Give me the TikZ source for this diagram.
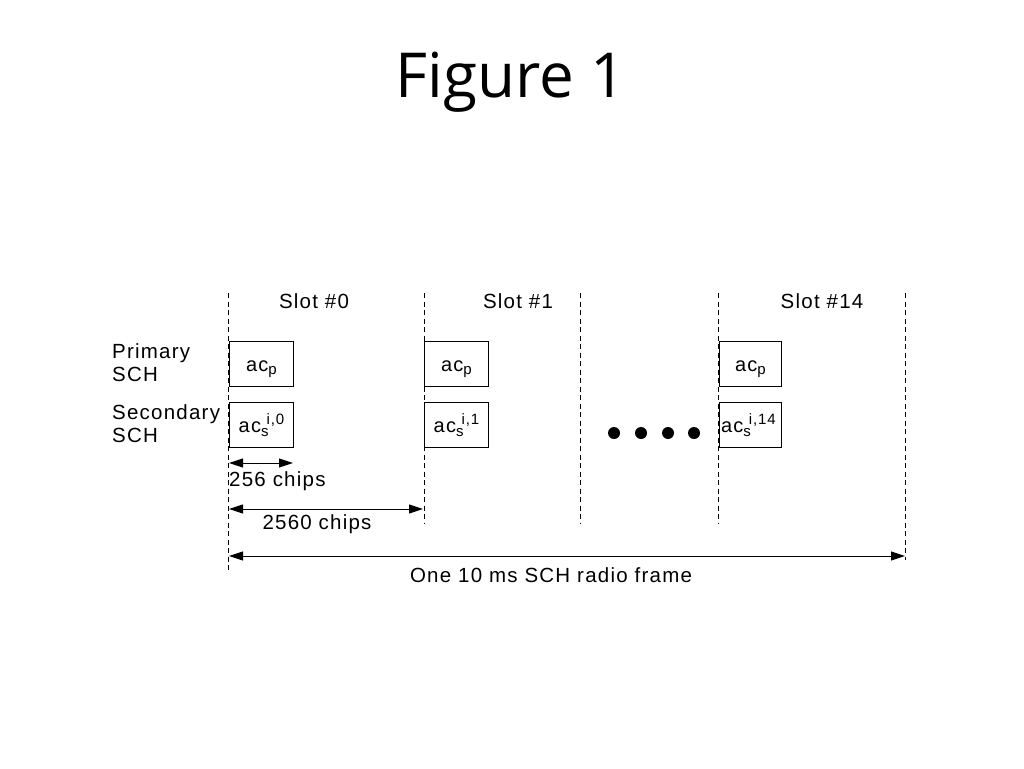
\documentclass[tikz,border=0pt]{standalone}
\usepackage{fontspec}
\setmainfont{Liberation Sans}[LetterSpace=6]
\newfontfamily\titlefont{Open Sans}
\usetikzlibrary{arrows.meta}
\newcommand{\mysb}[1]{\raisebox{-3.5pt}{\fontsize{15}{15}\selectfont #1}}
\newcommand{\mysp}[1]{\raisebox{8pt}{\fontsize{15}{15}\selectfont #1}}
\begin{document}
\begin{tikzpicture}[x=1pt,y=-1pt,
  lbl/.style={font=\fontsize{20.5}{22}\selectfont, inner sep=0pt},
  slotline/.style={line width=0.9pt, dash pattern=on 5pt off 3.5pt},
  chipbox/.style={draw, line width=0.9pt, minimum width=64pt, minimum height=45pt, inner sep=0pt, anchor=north west, font=\fontsize{20}{22}\selectfont},
  pbox/.style={chipbox, text height=15pt, text depth=0pt},
  dim/.style={line width=1pt, {Triangle[length=14pt,width=9pt]}-{Triangle[length=14pt,width=9pt]}},
  dot/.style={circle, fill=black, minimum size=12pt, inner sep=0pt}]
\useasboundingbox (0,0) rectangle (1024,768);
\node[font=\titlefont\fontsize{62}{64}\selectfont] (title) at (511,82) {Figure 1};
% slot boundaries
\coordinate (l0t) at (228,293); \coordinate (l0b) at (228,570);
\coordinate (l1t) at (424,293); \coordinate (l1b) at (424,523);
\coordinate (l2t) at (580,293); \coordinate (l2b) at (580,523);
\coordinate (l3t) at (718,293); \coordinate (l3b) at (718,523);
\coordinate (l4t) at (905,293); \coordinate (l4b) at (905,560);
\foreach \i in {0,...,4} \draw[slotline] (l\i t) -- (l\i b);
% slot labels
\node[lbl] (s0) at (314,301) {Slot \#0};
\node[lbl] (s1) at (518,301) {Slot \#1};
\node[lbl] (s14) at (822,301) {Slot \#14};
% row labels
\node[lbl, anchor=west, align=left] (prim) at (112,363) {Primary\\[1pt]SCH};
\node[lbl, anchor=west, align=left] (sec) at (112,424) {Secondary\\[1pt]SCH};
% boxes
\node[pbox] (p0) at (229,341) {ac\mysb{p}};
\node[pbox] (p1) at (424,341) {ac\mysb{p}};
\node[pbox, minimum width=62pt] (p14) at (719,341) {ac\mysb{p}};
\node[chipbox] (q0) at (229,402) {ac\mysb{s}\hspace{-2pt}\mysp{i,0}};
\node[chipbox] (q1) at (424,402) {ac\mysb{s}\hspace{-2pt}\mysp{i,1}};
\node[chipbox, minimum width=62pt] (q14) at (719,402) {\hspace{-4pt}ac\mysb{s}\hspace{-2pt}\mysp{i,14}};
% dots
\foreach \x/\n in {614/d1,641/d2,668/d3,694/d4} \node[dot] (\n) at (\x,433) {};
% dimensions
\coordinate (a1s) at (229,463); \coordinate (a1e) at (293,463);
\draw[dim] (a1s) -- (a1e);
\node[lbl, anchor=west] (t256) at (229,481) {256 chips};
\coordinate (a2s) at (229,509); \coordinate (a2e) at (423,509);
\draw[dim] (a2s) -- (a2e);
\node[lbl] (t2560) at (317,524) {2560 chips};
\coordinate (a3s) at (229,556); \coordinate (a3e) at (905,556);
\draw[dim] (a3s) -- (a3e);
\node[lbl] (tframe) at (551,575) {One 10 ms SCH radio frame};
\end{tikzpicture}
\end{document}
